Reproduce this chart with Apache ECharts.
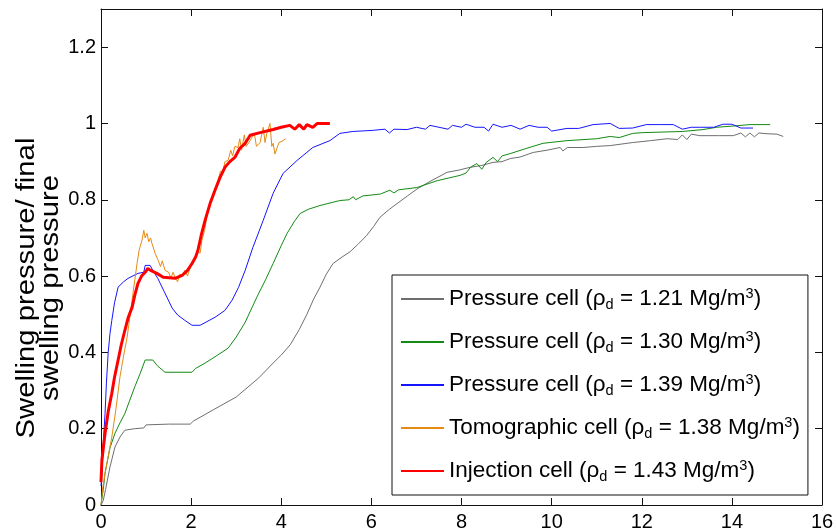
<!DOCTYPE html>
<html>
<head>
<meta charset="utf-8">
<title>Swelling pressure evolution</title>
<script src="https://cdn.jsdelivr.net/npm/echarts@6/dist/echarts.min.js"></script>
<style>
  html, body { margin: 0; padding: 0; background: #fff; }
  #chart { width: 836px; height: 532px; }
</style>
</head>
<body>
<div id="chart"></div>
<script>
// Cell types and dry densities used for the series names
const cellNames = ['Pressure cell', 'Pressure cell', 'Pressure cell', 'Tomographic cell', 'Injection cell'];
const densities = ['1.21', '1.30', '1.39', '1.38', '1.43'];
const lineColors = ['#6e6e6e', '#138a13', '#1515ff', '#e58a12', '#ff0000'];
const lineWidths = [1, 1, 1, 1, 3];

// Axis tick values
const xTicks = [0, 2, 4, 6, 8, 10, 12, 14, 16];
const yTicks = [0, 0.2, 0.4, 0.6, 0.8, 1, 1.2];

// Pressure cell, rho_d = 1.21 Mg/m3  (time, normalised pressure)
const p121 = [
  [0,0],[0.05,0.012],[0.1,0.04],[0.2,0.1],[0.31,0.152],[0.42,0.178],[0.53,0.196],[0.75,0.2],[0.95,0.202],[1.0,0.21],
  [1.5,0.212],[1.98,0.212],[2.05,0.22],[2.5,0.25],[3.0,0.283],[3.5,0.333],[3.82,0.372],[4.0,0.393],[4.2,0.42],[4.4,0.46],
  [4.57,0.5],[4.72,0.54],[4.86,0.571],[5.0,0.605],[5.15,0.633],[5.35,0.65],[5.53,0.664],[5.7,0.683],[5.9,0.707],[6.05,0.73],
  [6.19,0.754],[6.4,0.775],[6.57,0.79],[6.8,0.81],[7.01,0.828],[7.3,0.848],[7.68,0.872],[7.95,0.878],[8.19,0.885],[8.45,0.89],
  [8.7,0.898],[8.9,0.9],[9.08,0.908],[9.3,0.912],[9.59,0.924],[9.9,0.93],[10.19,0.937],[10.25,0.928],[10.35,0.937],[10.7,0.937],
  [11.0,0.94],[11.3,0.942],[11.8,0.95],[12.2,0.955],[12.56,0.96],[12.8,0.958],[12.9,0.97],[13.0,0.958],[13.1,0.972],[13.29,0.968],
  [13.7,0.968],[14.03,0.968],[14.2,0.975],[14.3,0.965],[14.4,0.975],[14.5,0.965],[14.6,0.975],[14.78,0.973],[15.0,0.972],[15.14,0.966]
];

// Pressure cell, rho_d = 1.30 Mg/m3
const p130 = [
  [0,0],[0.05,0.04],[0.09,0.084],[0.2,0.15],[0.31,0.188],[0.42,0.215],[0.53,0.24],[0.64,0.275],[0.75,0.31],[0.87,0.345],
  [0.98,0.38],[1.15,0.38],[1.25,0.365],[1.42,0.348],[2.02,0.348],[2.1,0.358],[2.31,0.372],[2.55,0.39],[2.82,0.411],[3.0,0.44],
  [3.2,0.479],[3.46,0.545],[3.65,0.59],[3.82,0.633],[4.0,0.68],[4.13,0.712],[4.3,0.745],[4.42,0.764],[4.6,0.775],[4.86,0.785],
  [5.3,0.798],[5.5,0.8],[5.6,0.808],[5.65,0.8],[5.81,0.81],[6.2,0.815],[6.41,0.825],[6.5,0.818],[6.6,0.826],[7.01,0.832],
  [7.46,0.85],[7.97,0.864],[8.1,0.87],[8.2,0.885],[8.34,0.895],[8.45,0.88],[8.55,0.898],[8.7,0.911],[8.8,0.9],[8.9,0.915],
  [9.08,0.921],[9.45,0.935],[9.81,0.948],[10.34,0.955],[11.0,0.96],[11.3,0.966],[11.5,0.963],[11.8,0.974],[12.03,0.976],[12.9,0.979],
  [13.36,0.984],[13.66,0.99],[14.0,0.993],[14.4,0.997],[14.85,0.997]
];

// Pressure cell, rho_d = 1.39 Mg/m3
const p139 = [
  [0,0.05],[0.03,0.1],[0.05,0.16],[0.09,0.24],[0.12,0.32],[0.16,0.4],[0.2,0.45],[0.24,0.484],[0.3,0.53],[0.38,0.571],
  [0.5,0.585],[0.6,0.594],[0.82,0.607],[0.95,0.61],[0.98,0.628],[1.09,0.628],[1.15,0.615],[1.26,0.594],[1.4,0.56],[1.58,0.516],
  [1.7,0.498],[1.86,0.484],[2.02,0.471],[2.2,0.471],[2.24,0.476],[2.53,0.492],[2.75,0.51],[2.91,0.537],[3.05,0.57],[3.2,0.615],
  [3.37,0.675],[3.6,0.746],[3.82,0.817],[4.04,0.869],[4.35,0.903],[4.7,0.937],[5.08,0.955],[5.3,0.974],[5.59,0.979],[6.04,0.982],
  [6.3,0.985],[6.4,0.975],[6.5,0.985],[6.79,0.984],[7.0,0.99],[7.2,0.985],[7.3,0.995],[7.5,0.99],[7.7,0.985],[7.8,0.995],
  [8.0,0.99],[8.1,0.998],[8.3,0.99],[8.5,0.99],[8.6,0.98],[8.7,0.998],[8.9,0.99],[9.1,0.995],[9.3,0.985],[9.5,0.995],
  [9.7,0.99],[9.9,0.99],[10.0,0.98],[10.34,0.987],[10.6,0.987],[10.92,0.997],[11.3,1.0],[11.5,0.987],[11.8,0.988],[12.1,0.997],
  [12.4,0.997],[12.7,0.997],[12.9,0.985],[13.1,0.99],[13.3,0.99],[13.6,0.99],[13.8,0.998],[14.0,0.998],[14.2,0.988],[14.47,0.988]
];

// Tomographic cell, rho_d = 1.38 Mg/m3
const t138 = [
  [0,0],[0.04,0.047],[0.1,0.09],[0.24,0.178],[0.33,0.25],[0.42,0.335],[0.5,0.39],[0.58,0.44],[0.65,0.5],[0.71,0.555],
  [0.8,0.633],[0.85,0.67],[0.91,0.694],[0.95,0.72],[0.98,0.7],[1.02,0.712],[1.06,0.69],[1.1,0.7],[1.13,0.686],[1.2,0.66],
  [1.27,0.641],[1.32,0.625],[1.36,0.64],[1.42,0.615],[1.5,0.61],[1.55,0.595],[1.6,0.61],[1.64,0.597],[1.7,0.585],[1.75,0.605],
  [1.8,0.6],[1.86,0.615],[1.92,0.6],[2.0,0.63],[2.09,0.649],[2.15,0.665],[2.2,0.66],[2.24,0.694],[2.3,0.72],[2.37,0.772],
  [2.45,0.8],[2.5,0.82],[2.6,0.851],[2.65,0.875],[2.7,0.87],[2.75,0.9],[2.82,0.903],[2.88,0.93],[2.92,0.915],[2.97,0.94],
  [3.04,0.937],[3.08,0.96],[3.12,0.93],[3.18,0.97],[3.22,0.94],[3.31,0.955],[3.4,0.975],[3.45,0.94],[3.53,0.95],[3.6,0.99],
  [3.64,0.95],[3.68,0.974],[3.75,1.0],[3.79,0.94],[3.82,0.948],[3.86,0.92],[3.9,0.921],[3.95,0.95],[4.04,0.955],[4.1,0.96]
];

// Injection cell, rho_d = 1.43 Mg/m3
const i143 = [
  [0,0.06],[0.02,0.118],[0.09,0.188],[0.16,0.245],[0.24,0.293],[0.3,0.335],[0.38,0.38],[0.45,0.42],[0.53,0.458],[0.6,0.49],
  [0.69,0.518],[0.75,0.55],[0.82,0.581],[0.9,0.6],[0.98,0.61],[1.04,0.62],[1.1,0.615],[1.24,0.607],[1.38,0.597],[1.64,0.594],
  [1.8,0.602],[1.92,0.615],[2.02,0.633],[2.1,0.65],[2.15,0.667],[2.23,0.71],[2.31,0.746],[2.42,0.79],[2.53,0.825],[2.64,0.858],
  [2.75,0.885],[2.86,0.9],[2.97,0.911],[3.08,0.935],[3.2,0.948],[3.31,0.969],[3.53,0.976],[3.82,0.984],[4.0,0.99],[4.19,0.995],
  [4.3,0.985],[4.4,0.997],[4.5,0.985],[4.57,0.997],[4.7,0.99],[4.8,1.0],[5.08,1.0]
];

const seriesData = [p121, p130, p139, t138, i143];
const seriesNames = cellNames.map((c, i) => c + ' (ρd = ' + densities[i] + ' Mg/m3)');

const FONT = '"Liberation Sans", Arial, Helvetica, sans-serif';
const chart = echarts.init(document.getElementById('chart'), null, { renderer: 'canvas' });

const axisLineStyle = { color: '#111', width: 1 };
const gridBox = { left: 101, right: 14, top: 9, bottom: 27 };

const option = {
  backgroundColor: '#ffffff',
  animation: false,
  grid: Object.assign({ containLabel: false, outerBoundsMode: 'none' }, gridBox),
  xAxis: [
    {
      type: 'value', min: xTicks[0], max: xTicks[xTicks.length - 1], interval: 2,
      axisLine: { show: true, onZero: false, lineStyle: axisLineStyle },
      axisTick: { show: true, inside: true, length: 7, lineStyle: axisLineStyle },
      axisLabel: { show: true, margin: 7, color: '#000', fontSize: 20, fontFamily: FONT },
      splitLine: { show: false }
    },
    {
      type: 'value', position: 'top', min: xTicks[0], max: xTicks[xTicks.length - 1], interval: 2,
      axisLine: { show: true, onZero: false, lineStyle: axisLineStyle },
      axisTick: { show: true, inside: true, length: 7, lineStyle: axisLineStyle },
      axisLabel: { show: false },
      splitLine: { show: false }
    }
  ],
  yAxis: [
    {
      type: 'value', min: yTicks[0], max: 1.3, interval: 0.2,
      axisLine: { show: true, onZero: false, lineStyle: axisLineStyle },
      axisTick: { show: true, inside: true, length: 7, lineStyle: axisLineStyle },
      axisLabel: { show: true, margin: 5, color: '#000', fontSize: 20, fontFamily: FONT, showMaxLabel: false,
        formatter: v => (yTicks.some(t => Math.abs(t - v) < 1e-9) ? String(+v.toFixed(1)) : '') },
      splitLine: { show: false }
    },
    {
      type: 'value', position: 'right', min: yTicks[0], max: 1.3, interval: 0.2,
      axisLine: { show: true, onZero: false, lineStyle: axisLineStyle },
      axisTick: { show: true, inside: true, length: 7, lineStyle: axisLineStyle },
      axisLabel: { show: false },
      splitLine: { show: false }
    }
  ],
  legend: {
    orient: 'vertical',
    left: 392, top: 275,
    padding: [11, 8, 11, 8],
    itemGap: 17,
    itemWidth: 43, itemHeight: 14,
    backgroundColor: '#ffffff',
    borderColor: '#111', borderWidth: 1,
    selectedMode: false,
    // line-only key: hide the marker drawn in the middle of each sample line
    itemStyle: { opacity: 0, borderWidth: 0 },
    data: seriesNames,
    formatter: name => {
      const i = seriesNames.indexOf(name);
      return cellNames[i] + ' (ρ{sub|d} = ' + densities[i] + ' Mg/m{sup|3})';
    },
    textStyle: {
      color: '#000', fontSize: 22.5, fontFamily: FONT,
      rich: {
        sub: { fontSize: 14.5, fontFamily: FONT, color: '#000', padding: [11, 0, 0, 0] },
        sup: { fontSize: 14.5, fontFamily: FONT, color: '#000', padding: [0, 0, 11, 0] }
      }
    }
  },
  graphic: [
    {
      type: 'text',
      x: 39, y: 288,
      rotation: Math.PI / 2,
      scaleX: 1.17,
      style: {
        text: 'Swelling pressure/ final\nswelling pressure',
        fontSize: 25, fontFamily: FONT, fill: '#000',
        align: 'center', verticalAlign: 'middle', lineHeight: 24
      }
    }
  ],
  series: seriesData.map((d, i) => ({
    name: seriesNames[i],
    type: 'line',
    data: d,
    xAxisIndex: 0, yAxisIndex: 0,
    symbol: 'none',
    showSymbol: false,
    smooth: false,
    clip: true,
    lineStyle: { color: lineColors[i], width: lineWidths[i] },
    itemStyle: { color: lineColors[i] },
    emphasis: { disabled: true },
    z: 2 + i
  }))
};

chart.setOption(option);
</script>
</body>
</html>
